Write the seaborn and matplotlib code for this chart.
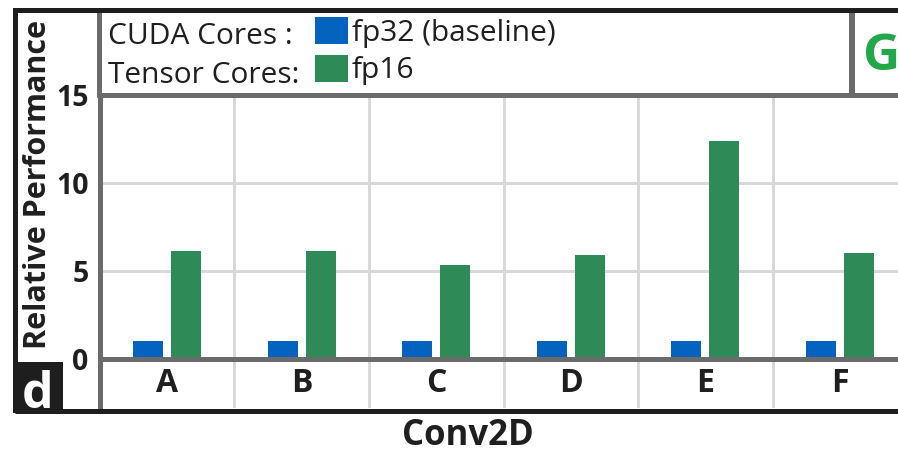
import matplotlib
matplotlib.use("Agg")
import matplotlib.pyplot as plt
from matplotlib.patches import Rectangle
from matplotlib.lines import Line2D
import pandas as pd
import seaborn as sns

# ---- data -------------------------------------------------------------
categories = ["A", "B", "C", "D", "E", "F"]
fp32_baseline = [1.0, 1.0, 1.0, 1.0, 1.0, 1.0]
fp16_tensor = [6.1, 6.1, 5.3, 5.9, 12.4, 6.0]
series_names = ["fp32 (baseline)", "fp16"]
core_labels = ["CUDA Cores :", "Tensor Cores:"]
y_ticks = [0, 5, 10, 15]
panel_letter = "d"
next_panel_letter = "G"

df = pd.DataFrame({
    "layer": categories * 2,
    "precision": [series_names[0]] * len(categories) + [series_names[1]] * len(categories),
    "perf": fp32_baseline + fp16_tensor,
})

# ---- style ------------------------------------------------------------
sns.set_theme(style="white")
plt.rcParams["font.family"] = ["Open Sans", "DejaVu Sans"]

BLUE = "#0563C0"
GREEN = "#2E8B57"
GRID = "#D9D9D9"
FRAME = "#6B6B6B"
BLACK = "#1E1E1E"
TEXT = "#1F1F1F"

W, H = 898, 455
fig = plt.figure(figsize=(W / 100, H / 100), dpi=100)


def fx(px):
    return px / W


def fy(py):
    return 1 - py / H


PT = 72 / 100  # points per pixel

# plot area in pixels
ax_l, ax_r, ax_t, ax_b = 99.7, 898.0, 95.0, 407.5
ax = fig.add_axes([fx(ax_l), fy(ax_b), (ax_r - ax_l) / W, (ax_b - ax_t) / H])

sns.barplot(
    data=df, x="layer", y="perf", hue="precision",
    palette=[BLUE, GREEN], saturation=1, width=0.565, gap=0.21,
    linewidth=0, legend=False, ax=ax, zorder=3,
)

ax.set_xlim(-0.5, -0.5 + (ax_r - ax_l) / 134.6)
ax.set_ylim(-(ax_b - 358.5) / ((358.5 - ax_t) / 15), 15)

# grid: light horizontal lines and category separators
for v in y_ticks[1:-1]:
    ax.axhline(v, color=GRID, lw=3 * PT, zorder=1)
for i in range(len(categories)):
    ax.axvline(i + 0.5, color=GRID, lw=3 * PT, zorder=1)
ax.axhline(0, color=FRAME, lw=5 * PT, zorder=4)

for side in ["right", "bottom"]:
    ax.spines[side].set_visible(False)
for side in ["left", "top"]:
    ax.spines[side].set_color(FRAME)
    ax.spines[side].set_linewidth(5 * PT)
    ax.spines[side].set_zorder(5)

ax.set_yticks(y_ticks)
ax.set_yticklabels([str(t) for t in y_ticks])
ax.tick_params(axis="y", length=0, pad=8, labelsize=20.5, labelcolor=TEXT)
ax.tick_params(axis="x", length=0, pad=-17, labelsize=23, labelcolor=TEXT)
for lab in ax.get_yticklabels():
    lab.set_fontweight("bold")
for lab in ax.get_xticklabels():
    lab.set_fontweight("bold")
    lab.set_verticalalignment("center")

ax.set_xlabel("Conv2D", fontsize=25, fontweight="bold", color=TEXT)
ax.xaxis.set_label_coords((468 - ax_l) / (ax_r - ax_l), -(436 - ax_b) / (ax_b - ax_t))
ax.xaxis.label.set_verticalalignment("center")
ax.set_ylabel("Relative Performance", fontsize=22, fontweight="bold", color=TEXT)
ax.yaxis.set_label_coords((38 - ax_l) / (ax_r - ax_l), (ax_b - 184) / (ax_b - ax_t))
ax.yaxis.label.set_verticalalignment("center")

# ---- legend panel ------------------------------------------------------
FS = 21.5
leg = ax.legend(
    handles=list(ax.containers), labels=series_names,
    loc="upper left", bbox_to_anchor=(fx(315), fy(17)), bbox_transform=fig.transFigure,
    frameon=False, borderpad=0, borderaxespad=0, fontsize=FS,
    handlelength=33 / (FS / PT), handleheight=31 / (FS / PT), handletextpad=4 / (FS / PT),
    labelspacing=0.22,
)
for t in leg.get_texts():
    t.set_color(TEXT)

for txt, base in zip(core_labels, [44, 83]):
    fig.text(fx(108), fy(base), txt, fontsize=FS, color=TEXT, va="baseline", ha="left")

# outer frame pieces
fig.add_artist(Line2D([fx(98.5), fx(98.5)], [fy(12), fy(96)], color=FRAME, lw=5 * PT,
                      transform=fig.transFigure))
fig.add_artist(Line2D([fx(851.5), fx(851.5)], [fy(12), fy(94)], color=FRAME, lw=6 * PT,
                      transform=fig.transFigure))
fig.add_artist(Rectangle((fx(15.5), fy(410.5)), fx(1000), (410.5 - 9.5) / H,
                         fill=False, edgecolor=BLACK, lw=5 * PT,
                         transform=fig.transFigure, zorder=10))
fig.add_artist(Rectangle((fx(13), fy(413)), fx(50), 51 / H, facecolor=BLACK,
                         edgecolor="none", transform=fig.transFigure, zorder=10))
fig.text(fx(38), fy(408), panel_letter, fontsize=36, fontweight="bold", color="white",
         ha="center", va="baseline", zorder=11)
fig.text(fx(863), fy(70), next_panel_letter, fontsize=37, fontweight="bold", color="#22A84A",
         ha="left", va="baseline")

fig.savefig("out.png", dpi=100, facecolor="white")
